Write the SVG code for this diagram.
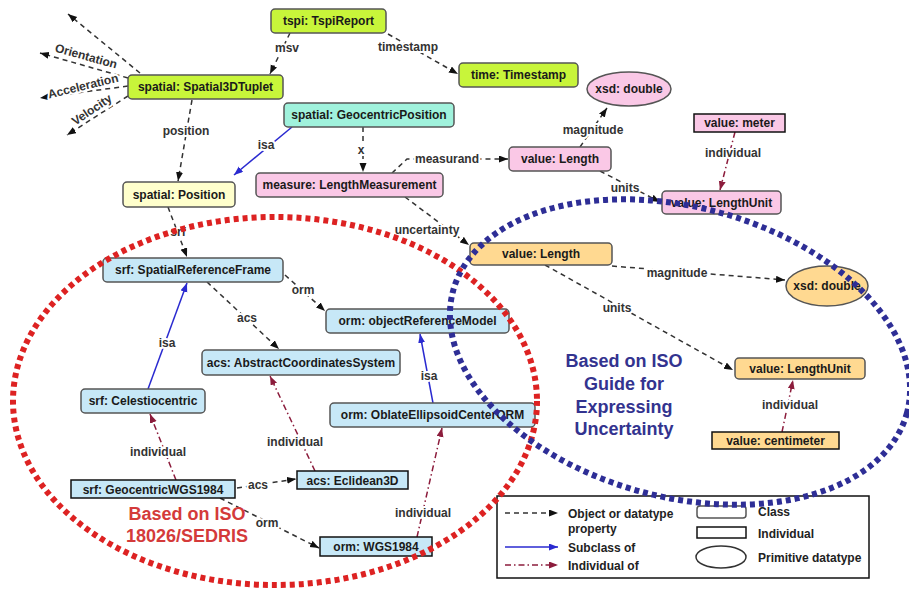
<svg xmlns="http://www.w3.org/2000/svg" width="909" height="590" viewBox="0 0 909 590">
<style>
.cls{stroke:#555;stroke-width:1.5;rx:4}
.ind{stroke:#111;stroke-width:1.5}
.g{fill:#c8f53a}.c{fill:#a0f2dc}.p{fill:#fac8e6}.y{fill:#ffffcc}.o{fill:#ffd991}.b{fill:#c7e8f7}
text{font-family:"Liberation Sans",Arial,sans-serif;font-weight:bold;font-size:12px}
.t{fill:#1a1a1a;text-anchor:middle}
.l{fill:#333;text-anchor:middle;paint-order:stroke;stroke:#fff;stroke-width:4px;stroke-linejoin:round}
.d{fill:none;stroke:#333;stroke-width:1.5;stroke-dasharray:5 4;marker-end:url(#ab)}
.s{fill:none;stroke:#2a2ad0;stroke-width:1.5;marker-end:url(#au)}
.i{fill:none;stroke:#8c1c3c;stroke-width:1.5;stroke-dasharray:6 3 1.5 3;marker-end:url(#ar)}
.big{font-size:18px;text-anchor:middle}
.lg{fill:#222}
</style>
<defs>
<marker id="ab" markerWidth="10" markerHeight="8" refX="9" refY="3.5" orient="auto" markerUnits="userSpaceOnUse"><path d="M0,0 L9,3.5 L0,7 z" fill="#111"/></marker>
<marker id="au" markerWidth="10" markerHeight="8" refX="9" refY="3.5" orient="auto" markerUnits="userSpaceOnUse"><path d="M0,0 L9,3.5 L0,7 z" fill="#2a2ad0"/></marker>
<marker id="ar" markerWidth="10" markerHeight="8" refX="9" refY="3.5" orient="auto" markerUnits="userSpaceOnUse"><path d="M0,0 L9,3.5 L0,7 z" fill="#8c1c3c"/></marker>
</defs>
<rect width="909" height="590" fill="#fff"/>
<g id="connectors">
<path class="d" d="M140,73 L68,14"/>
<path class="d" d="M128,78 L40,53"/>
<path class="d" d="M128,86 L40,98"/>
<path class="d" d="M128,96 L67,135"/>
<path class="d" d="M290,33 L270,74"/>
<path class="d" d="M388,34 L458,74"/>
<path class="d" d="M192,100 L178,181"/>
<path class="s" d="M292,127 L234,175"/>
<path class="d" d="M363,127 L363,172"/>
<path class="d" d="M392,173 L407,159 L508,159"/>
<path class="d" d="M580,147 L607,108"/>
<path class="d" d="M600,171 L660,202"/>
<path class="i" d="M735,132 L720,190"/>
<path class="d" d="M405,197 L469,245"/>
<path class="d" d="M612,266 L785,280"/>
<path class="d" d="M545,265 L733,370"/>
<path class="i" d="M782,432 L793,380"/>
<path class="d" d="M168,207 L187,257"/>
<path class="d" d="M285,275 L325,311"/>
<path class="d" d="M207,282 L279,349"/>
<path class="s" d="M148,389 L187,283"/>
<path class="i" d="M176,480 L150,414"/>
<path class="i" d="M315,471 L270,376"/>
<path class="i" d="M417,537 L442,428"/>
<path class="s" d="M433,403 L420,334"/>
<path class="d" d="M237,488 L296,479"/>
<path class="d" d="M220,498 L319,548"/>
<text class="l" transform="translate(85,60) rotate(15.5)">Orientation</text>
<text class="l" transform="translate(84,90) rotate(-13.6)">Acceleration</text>
<text class="l" transform="translate(94,113) rotate(-34)">Velocity</text>
<text class="l" x="287" y="52">msv</text>
<text class="l" x="408" y="51">timestamp</text>
<text class="l" x="186" y="135">position</text>
<text class="l" x="266" y="149">isa</text>
<text class="l" x="361" y="154">x</text>
<text class="l" x="447" y="163">measurand</text>
<text class="l" x="593" y="134">magnitude</text>
<text class="l" x="625" y="192">units</text>
<text class="l" x="733" y="157">individual</text>
<text class="l" x="427" y="234">uncertainty</text>
<text class="l" x="677" y="277">magnitude</text>
<text class="l" x="617" y="312">units</text>
<text class="l" x="790" y="409">individual</text>
<text class="l" x="178" y="236">srf</text>
<text class="l" x="303" y="294">orm</text>
<text class="l" x="247" y="322">acs</text>
<text class="l" x="167" y="347">isa</text>
<text class="l" x="158" y="456">individual</text>
<text class="l" x="295" y="446">individual</text>
<text class="l" x="423" y="517">individual</text>
<text class="l" x="429" y="380">isa</text>
<text class="l" x="258" y="489">acs</text>
<text class="l" x="267" y="527">orm</text>
</g>
<g id="n_tspi"><rect class="cls g" x="271" y="9" width="115" height="24"/><text class="t" x="328.5" y="25">tspi: TspiReport</text></g>
<g id="n_tuplet"><rect class="cls g" x="128" y="75" width="155" height="24"/><text class="t" x="205.5" y="91">spatial: Spatial3DTuplet</text></g>
<g id="n_time"><rect class="cls g" x="459" y="63" width="119" height="24"/><text class="t" x="518.5" y="79">time: Timestamp</text></g>
<g id="n_geopos"><rect class="cls c" x="284" y="103" width="170" height="24"/><text class="t" x="369" y="119">spatial: GeocentricPosition</text></g>
<g id="n_lenmeas"><rect class="cls p" x="256" y="173" width="187" height="24"/><text class="t" x="349.5" y="189">measure: LengthMeasurement</text></g>
<g id="n_len1"><rect class="cls p" x="509" y="147" width="102" height="24"/><text class="t" x="560" y="163">value: Length</text></g>
<g id="n_xsd1"><ellipse class="p" cx="629" cy="89" rx="42" ry="17" stroke="#555" stroke-width="1.5"/><text class="t" x="629" y="93">xsd: double</text></g>
<g id="n_meter"><rect class="ind p" x="694" y="114" width="91" height="18"/><text class="t" x="739.5" y="127">value: meter</text></g>
<g id="n_lu1"><rect class="cls p" x="662" y="191" width="119" height="23"/><text class="t" x="721.5" y="207">value: LengthUnit</text></g>
<g id="n_pos"><rect class="cls y" x="123" y="182" width="112" height="25"/><text class="t" x="179" y="199">spatial: Position</text></g>
<g id="n_len2"><rect class="cls o" x="470" y="243" width="142" height="22"/><text class="t" x="541" y="258">value: Length</text></g>
<g id="n_xsd2"><ellipse class="o" cx="827" cy="286" rx="41" ry="20" stroke="#555" stroke-width="1.5"/><text class="t" x="827" y="290">xsd: double</text></g>
<g id="n_lu2"><rect class="cls o" x="735" y="358" width="130" height="21"/><text class="t" x="800" y="373">value: LengthUnit</text></g>
<g id="n_cm"><rect class="ind o" x="712" y="432" width="127" height="17"/><text class="t" x="775.5" y="445">value: centimeter</text></g>
<g id="n_srf"><rect class="cls b" x="103" y="258" width="180" height="24"/><text class="t" x="193" y="274">srf: SpatialReferenceFrame</text></g>
<g id="n_orm"><rect class="cls b" x="326" y="309" width="183" height="24"/><text class="t" x="417.5" y="325">orm: objectReferenceModel</text></g>
<g id="n_acs"><rect class="cls b" x="202" y="350" width="198" height="25"/><text class="t" x="301" y="367">acs: AbstractCoordinatesSystem</text></g>
<g id="n_cel"><rect class="cls b" x="81" y="389" width="124" height="24"/><text class="t" x="143" y="405">srf: Celestiocentric</text></g>
<g id="n_oblate"><rect class="cls b" x="330" y="403" width="205" height="24"/><text class="t" x="432.5" y="419">orm: OblateEllipsoidCenterORM</text></g>
<g id="n_gwgs"><rect class="ind b" x="71" y="480" width="164" height="18"/><text class="t" x="153" y="493.5">srf: GeocentricWGS1984</text></g>
<g id="n_ecl"><rect class="ind b" x="297" y="471" width="111" height="18"/><text class="t" x="352.5" y="484.5">acs: Eclidean3D</text></g>
<g id="n_wgs"><rect class="ind b" x="320" y="537" width="112" height="19"/><text class="t" x="376" y="551">orm: WGS1984</text></g>
<g id="legend">
<rect x="497" y="496" width="372" height="82" fill="#fff" stroke="#111" stroke-width="1.5"/>
<path class="d" d="M505,513 L558,513"/>
<text class="lg" x="568" y="518">Object or datatype</text>
<text class="lg" x="568" y="533">property</text>
<path class="s" d="M505,547 L558,547"/>
<text class="lg" x="568" y="552">Subclass of</text>
<path class="i" d="M505,565 L558,565"/>
<text class="lg" x="568" y="570">Individual of</text>
<rect x="697" y="506" width="49" height="12" rx="3" fill="#fff" stroke="#555" stroke-width="1.5"/>
<text class="lg" x="758" y="516">Class</text>
<rect x="697" y="527" width="49" height="11" fill="#fff" stroke="#111" stroke-width="1.5"/>
<text class="lg" x="758" y="538">Individual</text>
<ellipse cx="721" cy="557" rx="25" ry="11" fill="#fff" stroke="#333" stroke-width="1.5"/>
<text class="lg" x="758" y="562">Primitive datatype</text>
</g>
<g id="regions">
<ellipse cx="275" cy="401" rx="262" ry="184" fill="none" stroke="#dd2222" stroke-width="6" stroke-dasharray="5 4"/>
<ellipse cx="680" cy="352" rx="235" ry="145" transform="rotate(15 680 352)" fill="none" stroke="#2e2e96" stroke-width="6" stroke-dasharray="5 4"/>
<text class="big" x="187" y="520" fill="#d43a3a">Based on ISO</text>
<text class="big" x="187" y="542" fill="#d43a3a">18026/SEDRIS</text>
<text class="big" x="624" y="367" fill="#33338f">Based on ISO</text>
<text class="big" x="624" y="390" fill="#33338f">Guide for</text>
<text class="big" x="624" y="413" fill="#33338f">Expressing</text>
<text class="big" x="624" y="435" fill="#33338f">Uncertainty</text>
</g>
</svg>
